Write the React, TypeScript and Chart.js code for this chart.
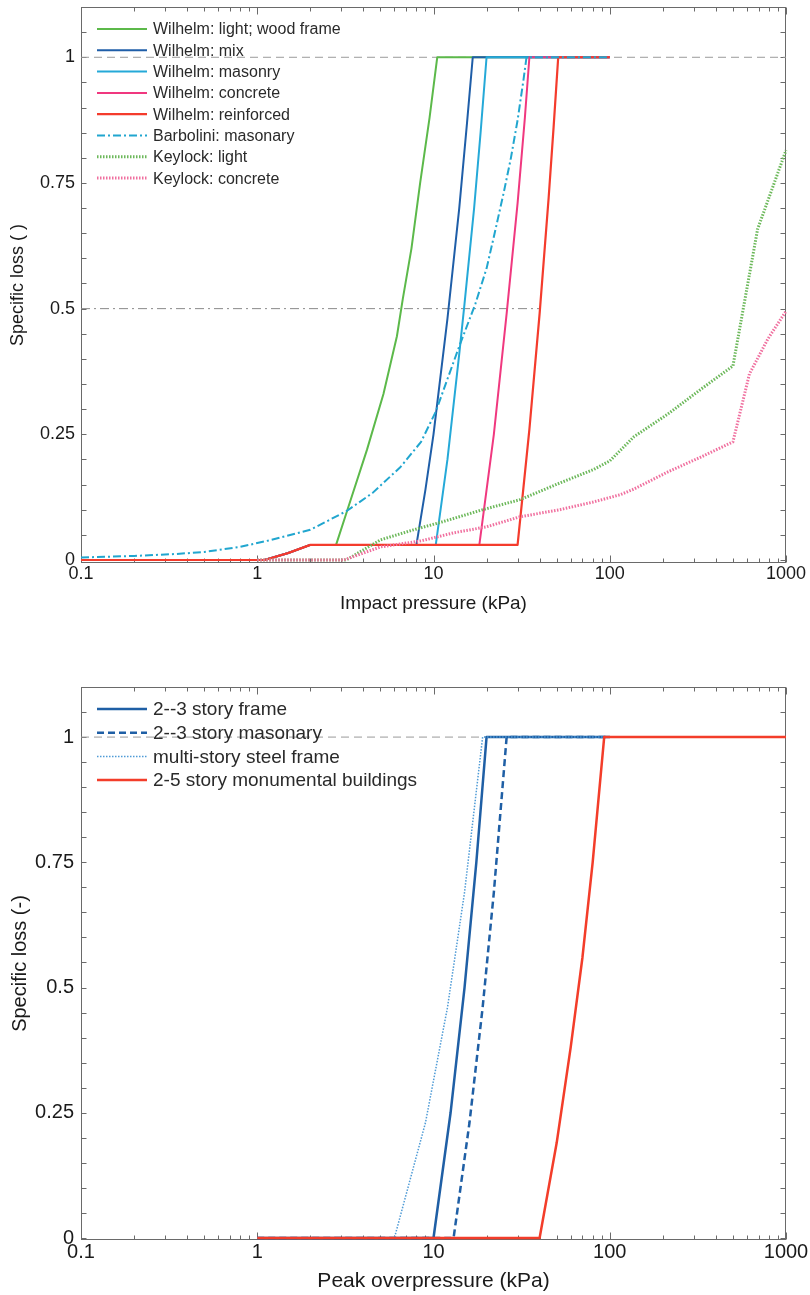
import React, { useEffect, useRef } from 'react';
import { Chart, registerables } from 'chart.js';

Chart.register(...registerables);

const FONT = '"Liberation Sans", Arial, Helvetica, sans-serif';

// ---------- Top chart data: [impact pressure (kPa), specific loss] ----------
const wilhelmLight = [[0.1, 0], [1.1, 0], [1.5, 0.014], [2, 0.03], [2.8, 0.03], [3.25, 0.1], [4.2, 0.22], [5.2, 0.33], [6.2, 0.445], [6.7, 0.52], [7.5, 0.62], [8.4, 0.75], [9.5, 0.88], [10.5, 1], [100, 1]];
const wilhelmMix = [[0.1, 0], [1.1, 0], [1.5, 0.014], [2, 0.03], [8, 0.03], [9, 0.14], [10, 0.25], [12, 0.48], [14, 0.7], [15.5, 0.87], [16.7, 1], [100, 1]];
const wilhelmMasonry = [[0.1, 0], [1.1, 0], [1.5, 0.014], [2, 0.03], [10.3, 0.03], [12, 0.2], [14, 0.41], [15, 0.51], [17, 0.7], [18.5, 0.85], [20, 1], [100, 1]];
const wilhelmConcrete = [[0.1, 0], [1.1, 0], [1.5, 0.014], [2, 0.03], [18.2, 0.03], [22, 0.25], [26, 0.49], [30, 0.71], [33, 0.88], [35, 1], [100, 1]];
const wilhelmReinforced = [[0.1, 0], [1.1, 0], [1.5, 0.014], [2, 0.03], [30, 0.03], [35, 0.26], [40, 0.49], [45, 0.72], [48, 0.86], [51, 1], [100, 1]];
const barbolini = [[0.1, 0.005], [0.2, 0.008], [0.35, 0.012], [0.5, 0.016], [0.8, 0.026], [1.2, 0.04], [2, 0.06], [3.2, 0.097], [4.5, 0.133], [6.5, 0.185], [8.5, 0.235], [10.3, 0.295], [12, 0.36], [14, 0.425], [17.3, 0.51], [20, 0.58], [22, 0.643], [25, 0.73], [27.4, 0.797], [30, 0.875], [32.4, 0.955], [33.7, 1], [100, 1]];
const keylockLight = [[1, 0], [3.2, 0], [5, 0.04], [7.7, 0.06], [11, 0.075], [14, 0.086], [19, 0.1], [31, 0.12], [52, 0.153], [81, 0.18], [100, 0.197], [137, 0.245], [213, 0.29], [330, 0.34], [500, 0.386], [690, 0.658], [1000, 0.815]];
const keylockConcrete = [[1, 0], [3.1, 0], [5, 0.026], [8.5, 0.038], [13, 0.054], [20, 0.066], [31, 0.086], [52, 0.1], [80, 0.115], [115, 0.13], [137, 0.141], [213, 0.175], [330, 0.205], [500, 0.235], [620, 0.37], [790, 0.44], [1000, 0.495]];
const topRefOne = [[0.1, 1], [1000, 1]];
const topRefHalf = [[0.1, 0.5], [40, 0.5]];

// ---------- Bottom chart data: [peak overpressure (kPa), specific loss] ----------
const frame23 = [[1, 0], [10, 0], [12.5, 0.25], [15, 0.5], [17.5, 0.75], [20, 1], [100, 1]];
const masonry23 = [[1, 0], [13, 0], [16, 0.23], [19, 0.46], [22, 0.69], [26, 1], [100, 1]];
const steelFrame = [[1, 0], [6, 0], [9, 0.23], [12, 0.46], [15, 0.69], [19, 1], [100, 1]];
const monumental = [[1, 0], [40, 0], [50, 0.19], [60, 0.38], [70, 0.56], [80, 0.75], [93, 1], [1000, 1]];
const bottomRefOne = [[0.1, 1], [20, 1]];

// ---------- Axis ticks ----------
const xLabelTicks = [0.1, 1, 10, 100, 1000];
const yLabelTicks = [0, 0.25, 0.5, 0.75, 1];
const yMinorStep = 0.05;

const toXY = (arr: number[][]) => arr.map(([x, y]) => ({ x, y }));

function ds(label: string | null, data: number[][], color: string, width: number, dash: number[], order: number) {
  return {
    label: label ?? '',
    showInLegend: label !== null,
    data: toXY(data),
    borderColor: color,
    backgroundColor: color,
    borderWidth: width,
    borderDash: dash,
    borderCapStyle: 'butt',
    borderJoinStyle: 'round',
    pointRadius: 0,
    pointHoverRadius: 0,
    tension: 0,
    fill: false,
    clip: 4,
    order,
  };
}

const frameTicksPlugin = {
  id: 'frameTicks',
  beforeDatasetsDraw(chart: any, _args: any, opts: any) {
    const { ctx, chartArea: a, scales } = chart;
    const x = scales.x;
    const y = scales.y;
    ctx.save();
    ctx.strokeStyle = opts.color;
    ctx.lineWidth = 1;
    const line = (x1: number, y1: number, x2: number, y2: number) => {
      ctx.beginPath();
      ctx.moveTo(x1, y1);
      ctx.lineTo(x2, y2);
      ctx.stroke();
    };
    const L = Math.round(a.left) + 0.5;
    const R = Math.round(a.right) - 0.5;
    const T = Math.round(a.top) + 0.5;
    const B = Math.round(a.bottom) - 0.5;
    ctx.strokeRect(L, T, R - L, B - T);
    for (const d of xLabelTicks) {
      for (let k = 1; k <= 9; k++) {
        const v = d * k;
        if (v > x.max * 1.0001) break;
        const px = Math.round(x.getPixelForValue(v)) + 0.5;
        const len = k === 1 ? opts.xMajor : opts.xMinor;
        line(px, B, px, B - len);
        line(px, T, px, T + len);
      }
    }
    const n = Math.floor(y.max / yMinorStep + 1e-6);
    for (let i = 0; i <= n; i++) {
      const v = i * yMinorStep;
      const py = Math.round(y.getPixelForValue(v)) + 0.5;
      line(L, py, L + opts.yLen, py);
      line(R, py, R - opts.yLen, py);
    }
    ctx.restore();
  },
};

const insideLegendPlugin = {
  id: 'insideLegend',
  afterDatasetsDraw(chart: any, _args: any, opts: any) {
    const { ctx, chartArea: a } = chart;
    const items = chart.data.datasets.filter((d: any) => d.showInLegend);
    ctx.save();
    ctx.font = `${opts.fontSize}px ${FONT}`;
    ctx.textBaseline = 'middle';
    ctx.textAlign = 'left';
    items.forEach((d: any, i: number) => {
      const yy = a.top + opts.y0 + i * opts.rowH;
      const x1 = a.left + opts.x0;
      ctx.beginPath();
      ctx.strokeStyle = d.borderColor;
      ctx.lineWidth = d.borderWidth;
      ctx.setLineDash(d.borderDash || []);
      ctx.lineCap = 'butt';
      ctx.moveTo(x1, yy);
      ctx.lineTo(x1 + opts.lineLen, yy);
      ctx.stroke();
      ctx.setLineDash([]);
      ctx.fillStyle = opts.color;
      ctx.fillText(d.label, x1 + opts.lineLen + opts.gap, yy + 1);
    });
    ctx.restore();
  },
};

function makeConfig(p: any) {
  return {
    type: 'line',
    data: { datasets: p.datasets },
    plugins: [frameTicksPlugin, insideLegendPlugin],
    options: {
      responsive: false,
      animation: false,
      events: [],
      layout: { padding: { top: p.padTop, right: p.padRight, left: 0, bottom: 0 } },
      plugins: {
        legend: { display: false },
        tooltip: { enabled: false },
        frameTicks: { color: '#6a6a6a', xMajor: 7, xMinor: 4, yLen: 5 },
        insideLegend: p.legend,
      },
      scales: {
        x: {
          type: 'logarithmic',
          min: 0.1,
          max: 1000,
          grid: { display: false, drawTicks: false },
          border: { display: false },
          afterBuildTicks: (s: any) => { s.ticks = xLabelTicks.map((v) => ({ value: v })); },
          afterFit: (s: any) => { s.height = p.xHeight; s.paddingLeft = 0; s.paddingRight = 0; },
          ticks: {
            autoSkip: false,
            maxRotation: 0,
            minRotation: 0,
            padding: p.xTickPad,
            color: '#1a1a1a',
            font: { family: FONT, size: p.tickSize },
            callback: (v: any) => String(v),
          },
          title: {
            display: true,
            text: p.xTitle,
            color: '#1a1a1a',
            font: { family: FONT, size: p.titleSize },
            padding: { top: 0, bottom: p.xTitlePad },
          },
        },
        y: {
          type: 'linear',
          min: p.yMin,
          max: 1.1,
          grid: { display: false, drawTicks: false },
          border: { display: false },
          afterBuildTicks: (s: any) => { s.ticks = yLabelTicks.map((v) => ({ value: v })); },
          afterFit: (s: any) => { s.width = 81; s.paddingTop = 0; s.paddingBottom = 0; },
          ticks: {
            padding: p.yTickPad,
            color: '#1a1a1a',
            font: { family: FONT, size: p.tickSize },
            callback: (v: any) => String(v),
          },
          title: {
            display: true,
            text: p.yTitle,
            color: '#1a1a1a',
            font: { family: FONT, size: p.yTitleSize },
            padding: { top: p.yTitlePad, bottom: 0 },
          },
        },
      },
    },
  };
}

const topConfig = () =>
  makeConfig({
    datasets: [
      ds(null, topRefOne, '#9a9a9a', 1, [8, 5], 20),
      ds(null, topRefHalf, '#8a8a8a', 1, [9, 4, 2, 4], 20),
      ds('Wilhelm: light; wood frame', wilhelmLight, '#5cb94a', 2, [], 7),
      ds('Wilhelm: mix', wilhelmMix, '#1f5ea8', 2, [], 6),
      ds('Wilhelm: masonry', wilhelmMasonry, '#25a9d8', 2, [], 5),
      ds('Wilhelm: concrete', wilhelmConcrete, '#f0387f', 2, [], 4),
      ds('Wilhelm: reinforced', wilhelmReinforced, '#f43b2c', 2.2, [], 3),
      ds('Barbolini: masonary', barbolini, '#21a6cf', 2, [8, 3, 2, 3], 2),
      ds('Keylock: light', keylockLight, '#6cb85a', 3, [1.5, 1.5], 1),
      ds('Keylock: concrete', keylockConcrete, '#f0709f', 3, [1.5, 1.5], 0),
    ],
    yMin: -0.006,
    padTop: 7,
    padRight: 24,
    xHeight: 67,
    xTickPad: 0,
    tickSize: 18,
    titleSize: 19,
    yTitleSize: 18,
    xTitlePad: 15,
    yTickPad: 6,
    yTitlePad: 7,
    xTitle: 'Impact pressure (kPa)',
    yTitle: 'Specific loss ( )',
    legend: { x0: 16, y0: 22, rowH: 21.3, lineLen: 50, gap: 6, fontSize: 16, color: '#2a2a2a' },
  });

const bottomConfig = () =>
  makeConfig({
    datasets: [
      ds(null, bottomRefOne, '#9a9a9a', 1, [8, 5], 20),
      ds('2--3 story frame', frame23, '#1f5fa5', 2.5, [], 3),
      ds('2--3 story masonary', masonry23, '#1f5fa5', 2.5, [7, 4], 2),
      ds('multi-story steel frame', steelFrame, '#4f9bd6', 1.5, [1.5, 1.5], 1),
      ds('2-5 story monumental buildings', monumental, '#f33d2a', 2.5, [], 0),
    ],
    yMin: -0.004,
    padTop: 57,
    padRight: 24,
    xHeight: 55,
    xTickPad: 0,
    tickSize: 20,
    titleSize: 21,
    yTitleSize: 20,
    xTitlePad: 1,
    yTickPad: 7,
    yTitlePad: 8,
    xTitle: 'Peak overpressure (kPa)',
    yTitle: 'Specific loss (-)',
    legend: { x0: 16, y0: 22, rowH: 23.7, lineLen: 50, gap: 6, fontSize: 19, color: '#2a2a2a' },
  });

function ChartCanvas({ make, top, height }: { make: () => any; top: number; height: number }) {
  const ref = useRef<HTMLCanvasElement>(null);
  useEffect(() => {
    const chart = new Chart(ref.current as HTMLCanvasElement, make());
    return () => chart.destroy();
  }, [make]);
  return (
    <div style={{ position: 'absolute', left: 0, top, width: 810, height }}>
      <canvas ref={ref} width={810} height={height} style={{ width: 810, height, display: 'block' }} />
    </div>
  );
}

export default function App() {
  return (
    <div style={{ position: 'absolute', left: 0, top: 0, width: 810, height: 1295, background: '#ffffff', overflow: 'hidden' }}>
      <ChartCanvas make={topConfig} top={0} height={630} />
      <ChartCanvas make={bottomConfig} top={630} height={665} />
    </div>
  );
}
